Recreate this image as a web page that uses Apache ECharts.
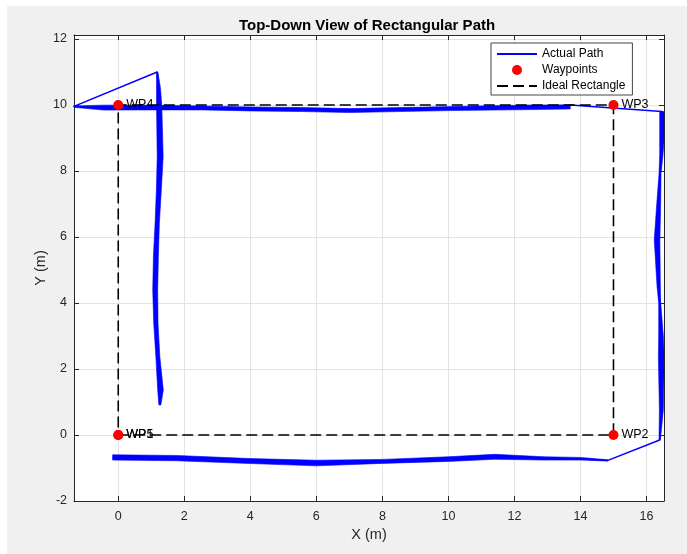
<!DOCTYPE html>
<html>
<head>
<meta charset="utf-8">
<title>Top-Down View of Rectangular Path</title>
<script src="https://cdn.jsdelivr.net/npm/echarts@6/dist/echarts.min.js"></script>
<style>
  html, body { margin: 0; padding: 0; background: #ffffff; }
  #chart { width: 687px; height: 554px; }
</style>
</head>
<body>
<div id="chart"></div>
<script>
// tick labels
var xTicks = [0, 2, 4, 6, 8, 10, 12, 14, 16];
var yTicks = [-2, 0, 2, 4, 6, 8, 10, 12];

// actual path, centre line (bottom -> right -> top -> left)
var pathX = [-0.17, 1.77, 4, 6, 8, 10, 11.4, 12.9, 14, 14.83,
             16.40, 16.45, 16.45, 16.44, 16.40, 16.37, 16.32, 16.37, 16.41, 16.45, 16.47, 16.47,
             13.69, 12.57, 10.05, 8.5, 7, 5.6, 4, 2.6, 1, -0.45, -1.36,
             1.18, 1.22, 1.24, 1.27, 1.23, 1.18, 1.14, 1.12, 1.14, 1.20, 1.28, 1.26];
var pathY = [-0.68, -0.70, -0.79, -0.85, -0.80, -0.73, -0.66, -0.71, -0.72, -0.77,
             -0.15, 0.76, 2.37, 3.0, 4.0, 4.49, 5.91, 7.0, 7.93, 8.5, 9.0, 9.80,
             10.00, 9.93, 9.89, 9.86, 9.83, 9.86, 9.88, 9.91, 9.92, 9.92, 9.95,
             11.0, 10.5, 9.95, 8.43, 7.42, 6.41, 5.40, 4.39, 3.38, 2.37, 1.36, 0.91];

// noisy parts of the path: the two edges of each jittering band
var bottomBandUpper = [[-0.17, -0.60], [1.77, -0.62], [4, -0.715], [6, -0.765], [8, -0.74], [10, -0.66],
                       [11.4, -0.585], [12.9, -0.66], [14, -0.68], [14.83, -0.75]];
var bottomBandLower = [[-0.17, -0.76], [1.77, -0.78], [4, -0.865], [6, -0.935], [8, -0.86], [10, -0.80],
                       [11.4, -0.735], [12.9, -0.76], [14, -0.76], [14.83, -0.79]];
var topBandUpper = [[-1.36, 9.97], [-0.45, 9.995], [1, 9.99], [2.6, 9.97], [4, 9.94], [5.6, 9.92],
                    [7, 9.89], [8.5, 9.92], [10.05, 9.95], [12.57, 10.0], [13.69, 10.0]];
var topBandLower = [[-1.36, 9.93], [-0.45, 9.845], [1, 9.85], [2.6, 9.85], [4, 9.82], [5.6, 9.80],
                    [7, 9.77], [8.5, 9.80], [10.05, 9.83], [12.57, 9.86], [13.69, 9.88]];
var leftBandA = [[1.16, 11.0], [1.16, 10.5], [1.16, 9.95], [1.18, 8.43], [1.155, 7.42], [1.115, 6.41],
                 [1.065, 5.40], [1.045, 4.39], [1.075, 3.38], [1.14, 2.37], [1.195, 1.36], [1.23, 0.91]];
var leftBandB = [[1.20, 11.0], [1.28, 10.5], [1.32, 9.95], [1.36, 8.43], [1.305, 7.42], [1.245, 6.41],
                 [1.215, 5.40], [1.195, 4.39], [1.205, 3.38], [1.26, 2.37], [1.365, 1.36], [1.29, 0.91]];
var rightBandA = [[16.40, 9.80], [16.40, 9.0], [16.40, 8.5], [16.38, 7.93], [16.31, 7.0], [16.235, 5.91],
                  [16.32, 4.49], [16.37, 4.0], [16.37, 3.0], [16.36, 2.37], [16.39, 0.76], [16.38, -0.15]];
var rightBandB = [[16.54, 9.80], [16.54, 9.0], [16.50, 8.5], [16.44, 7.93], [16.43, 7.0], [16.405, 5.91],
                  [16.42, 4.49], [16.43, 4.0], [16.51, 3.0], [16.54, 2.37], [16.51, 0.76], [16.42, -0.15]];

// waypoints
var wpNames = ['WP1', 'WP2', 'WP3', 'WP4', 'WP5'];
var wpX = [0, 15, 15, 0, 0];
var wpY = [0, 0, 10, 10, 0];

// ideal rectangle
var rectX = [0, 15, 15, 0, 0];
var rectY = [0, 0, 10, 10, 0];

var FONT = '"Liberation Sans", Arial, Helvetica, sans-serif';
var AXIS_COLOR = '#262626';
var NO_MARKER = { color: 'rgba(0,0,0,0)', borderColor: 'rgba(0,0,0,0)', borderWidth: 0 };

function zip(xs, ys) {
    return xs.map(function (x, i) { return [x, ys[i]]; });
}

var bands = [
    [bottomBandUpper, bottomBandLower],
    [topBandUpper, topBandLower],
    [leftBandA, leftBandB],
    [rightBandA, rightBandB]
];

var chart = echarts.init(document.getElementById('chart'), null, { renderer: 'canvas' });

var xRange = { min: -1.34, max: 16.53 };
var yRange = { min: -2, max: 12.12 };

// one side of the MATLAB-style box: inward ticks, labels only on bottom/left
function boxAxis(range, pos, main, name) {
    var ticks = (pos === 'bottom' || pos === 'top') ? xTicks : yTicks;
    return {
        type: 'value',
        position: pos,
        min: range.min,
        max: range.max,
        name: main ? name : '',
        nameLocation: 'middle',
        nameGap: pos === 'bottom' ? 26 : 26,
        nameMoveOverlap: false,
        nameTextStyle: { fontFamily: FONT, fontSize: 14.5, color: AXIS_COLOR },
        axisLine: { show: true, onZero: false, lineStyle: { color: AXIS_COLOR, width: 1 } },
        axisTick: {
            show: true, inside: true, length: 5,
            customValues: ticks,
            lineStyle: { color: AXIS_COLOR, width: 1 }
        },
        axisLabel: {
            show: main,
            customValues: ticks,
            fontFamily: FONT, fontSize: 12.5, color: AXIS_COLOR,
            margin: pos === 'bottom' ? 9 : 7
        },
        splitLine: { show: main, lineStyle: { color: '#e3e3e3', width: 1 } }
    };
}

chart.setOption({
    backgroundColor: '#f0f0f0',
    animation: false,
    graphic: [
        { type: 'rect', left: 0, top: 0, shape: { width: 687, height: 6 }, style: { fill: '#ffffff' }, z: -1 },
        { type: 'rect', left: 0, top: 0, shape: { width: 7, height: 554 }, style: { fill: '#ffffff' }, z: -1 }
    ],
    title: {
        text: 'Top-Down View of Rectangular Path',
        left: 239,
        top: 18,
        padding: 0,
        textStyle: { fontFamily: FONT, fontSize: 15, fontWeight: 'bold', color: '#000000' }
    },
    grid: {
        left: 74, right: 23, top: 35, bottom: 53,
        show: true, backgroundColor: '#ffffff', borderWidth: 0
    },
    legend: {
        orient: 'vertical',
        left: 491,
        top: 43,
        padding: [5, 7, 3, 5],
        itemGap: 4,
        itemWidth: 40,
        itemHeight: 10,
        backgroundColor: '#ffffff',
        borderColor: '#444444',
        borderWidth: 1,
        borderRadius: 0,
        textStyle: { fontFamily: FONT, fontSize: 12, color: '#000000' },
        data: [
            { name: 'Actual Path' },
            { name: 'Waypoints', icon: 'circle' },
            { name: 'Ideal Rectangle' }
        ]
    },
    xAxis: [boxAxis(xRange, 'bottom', true, 'X (m)'), boxAxis(xRange, 'top', false, '')],
    yAxis: [boxAxis(yRange, 'left', true, 'Y (m)'), boxAxis(yRange, 'right', false, '')],
    series: [
        {
            name: 'Actual Path',
            type: 'line',
            data: zip(pathX, pathY),
            symbol: 'rect',
            showSymbol: false,
            clip: true,
            lineStyle: { color: '#0000ff', width: 1.5 },
            itemStyle: NO_MARKER,
            z: 2
        },
        {
            name: 'Actual Path band',
            type: 'custom',
            coordinateSystem: 'cartesian2d',
            clip: true,
            silent: true,
            data: bands.map(function (b, i) { return [0, 0, i]; }),
            encode: { x: 0, y: 1 },
            renderItem: function (params, api) {
                var b = bands[params.dataIndex];
                var pts = b[0].concat(b[1].slice().reverse()).map(function (p) { return api.coord(p); });
                return {
                    type: 'polygon',
                    shape: { points: pts },
                    style: { fill: '#0000ff', stroke: '#0000ff', lineWidth: 0.6 }
                };
            },
            z: 2
        },
        {
            name: 'Ideal Rectangle',
            type: 'line',
            data: zip(rectX, rectY),
            symbol: 'rect',
            showSymbol: false,
            lineStyle: { color: '#000000', width: 1.6, type: [11, 5] },
            itemStyle: NO_MARKER,
            z: 3
        },
        {
            name: 'Waypoints',
            type: 'scatter',
            data: wpX.map(function (x, i) { return { name: wpNames[i], value: [x, wpY[i]] }; }),
            symbol: 'circle',
            symbolSize: 10,
            itemStyle: { color: '#ff0000', opacity: 1 },
            label: {
                show: true,
                position: 'right',
                distance: 3,
                formatter: '{b}',
                fontFamily: FONT,
                fontSize: 12.5,
                color: '#000000'
            },
            z: 4
        }
    ]
});
</script>
</body>
</html>
